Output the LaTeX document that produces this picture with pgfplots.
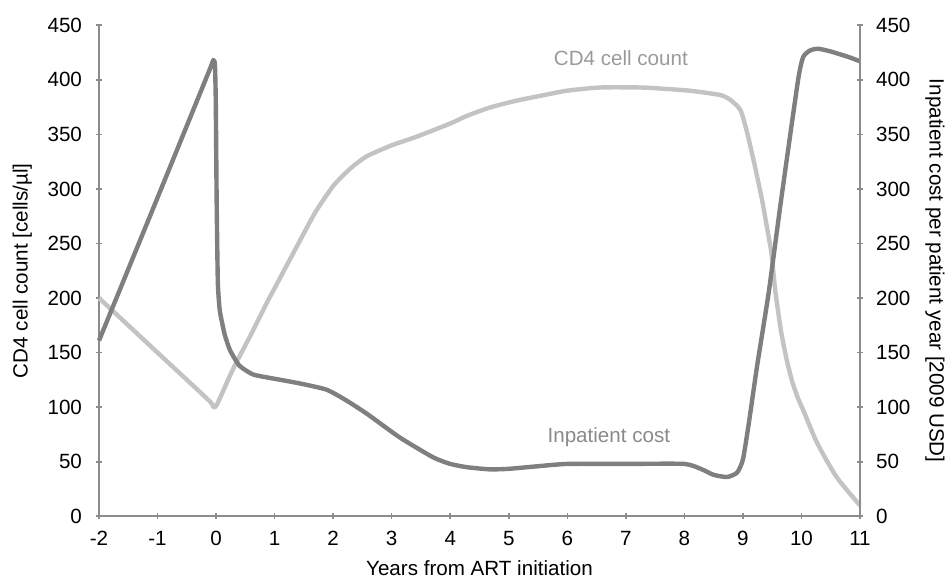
\documentclass[border=0pt]{standalone}
\usepackage{fontspec}
\setmainfont{Liberation Sans}
\usepackage{pgfplots}
\pgfplotsset{compat=1.18}
\definecolor{darkline}{HTML}{7F7F7F}
\definecolor{lightline}{HTML}{C3C3C3}
\definecolor{axisgray}{HTML}{8C8C8C}
\definecolor{lblcd}{HTML}{9A9A9A}
\definecolor{lblip}{HTML}{8A8A8A}
\begin{document}
\begin{tikzpicture}
\useasboundingbox (-49.5pt,-32.65pt) rectangle (425pt,258.15pt);
\pgfplotsset{
  common/.style={
    at={(0pt,0pt)}, anchor=south west,
    scale only axis, width=380.5pt, height=245.5pt,
    xmin=-2, xmax=11, ymin=0, ymax=450,
    font=\fontsize{10.3}{12}\selectfont,
    /pgf/number format/assume math mode=true,
    tick align=outside, major tick length=3pt,
    tick style={draw=axisgray, line width=0.8pt},
    ytick={0,50,...,450},
    clip=false,
  },
  noarrows/.style={
    axis line style={draw=axisgray, line width=0.8pt, -},
    every outer x axis line/.append style={-},
    every outer y axis line/.append style={-},
    every inner x axis line/.append style={-},
    every inner y axis line/.append style={-},
    x axis line style={-},
    y axis line style={-},
  }
}
\begin{axis}[common,
  axis x line=bottom, axis y line=left, noarrows,
  xtick={-2,-1,...,11},
  xticklabel style={yshift=-2.5pt},
  yticklabel style={xshift=-3.5pt},
  xlabel={Years from ART initiation},
  ylabel={CD4 cell count [cells/µl]},
  xlabel style={at={(rel axis cs:0.5,0)}, anchor=center, yshift=-26pt},
  ylabel style={at={(rel axis cs:0,0.5)}, anchor=center, yshift=38.3pt},
]
\addplot[lightline, line width=2.2pt, smooth, tension=0.4, line join=round] coordinates {
(-2,200) (-1,150) (-0.12,106) (-0.05,100) (0.02,103) (0.29,135) (0.6,167) (0.87,196)
(1.0,209) (1.436,253) (1.7,279) (2.005,303) (2.3,319) (2.576,330) (3.0,340)
(3.43,348) (4.0,360) (4.285,367) (4.7,375) (5.14,381) (5.6,386) (5.99,390)
(6.56,393) (7.25,393) (7.6,392) (8.1,390) (8.62,386) (8.8,381) (8.96,372)
(9.07,352) (9.2,322) (9.33,289) (9.42,262) (9.49,240) (9.55,208) (9.65,170) (9.75,143)
(9.85,122) (9.95,107) (10.04,96) (10.27,67) (10.6,36) (11,10)
};
\addplot[darkline, line width=2.2pt, smooth, tension=0.35, line join=round] coordinates {
(-2,161) (-1,292) (-0.12,408) (-0.05,418) (-0.02,414) (-0.005,380) (0.01,289)
(0.03,215) (0.06,190) (0.097,179) (0.15,166) (0.24,152) (0.4,138) (0.63,130) (0.9,127) (1.21,124)
(1.5,121) (1.89,116) (2.2,107) (2.576,94) (3.145,72) (3.71,54) (4.0,48)
(4.285,45) (4.68,43) (5.0,43.5) (5.42,45.5) (6.0,48) (7.0,48) (8.0,48)
(8.3,43) (8.5,38) (8.73,36) (8.9,40) (9.0,52) (9.1,85) (9.24,137) (9.44,205)
(9.65,289) (9.94,399) (10.03,421) (10.15,427) (10.29,428.5) (10.5,426)
(10.8,421) (11,417)
};
\node[anchor=base, text=lblcd, font=\fontsize{10.3}{12}\selectfont] at (axis cs:6.915,413) {CD4 cell count};
\node[anchor=base, text=lblip, font=\fontsize{10.3}{12}\selectfont] at (axis cs:6.71,67.2) {Inpatient cost};
\end{axis}
\begin{axis}[common,
  axis x line=none, axis y line=right, noarrows,
  yticklabel style={xshift=3pt},
  ylabel={Inpatient cost per patient year [2009 USD]},
  ylabel style={at={(rel axis cs:1,0.5)}, anchor=center, rotate=180, yshift=37.5pt},
]
\end{axis}
\end{tikzpicture}
\end{document}
